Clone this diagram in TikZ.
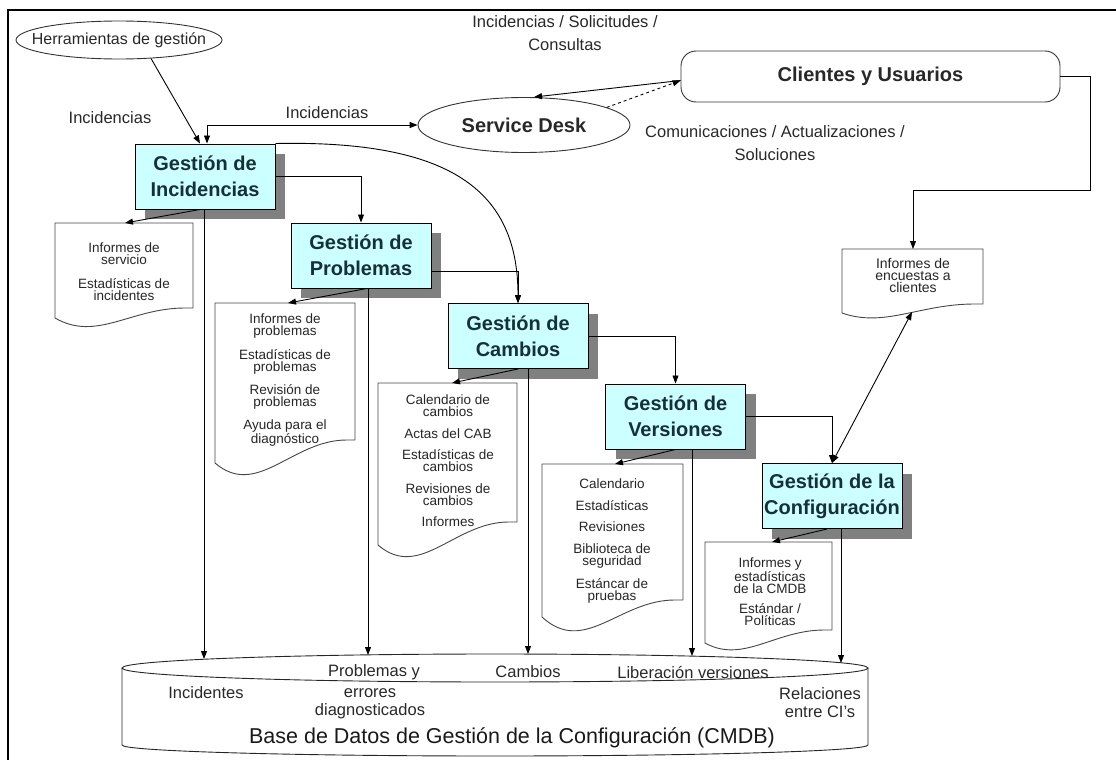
\documentclass[tikz,border=0pt]{standalone}
\usepackage{fontspec}
\setmainfont{Liberation Sans}
\usetikzlibrary{arrows.meta,shapes.geometric,shadows}
\definecolor{boxfill}{RGB}{204,255,255}
\definecolor{boxtext}{RGB}{22,48,55}
\definecolor{shadowgray}{RGB}{128,128,128}
\definecolor{docgray}{RGB}{70,70,70}
\definecolor{txtgray}{RGB}{40,40,40}
\newcommand\docpath[6]{%
  \draw[docline] (#1,#2) -- (#3,#2) -- (#3,#4) -- ({#3-0.06*(#3-#1)},#4)
    .. controls ({#1+0.55*(#3-#1)},#4) and ({#1+0.3*(#3-#1)},{#5+3*(#6-#5)}) .. (#1,#5) -- cycle;}
\begin{document}
\begin{tikzpicture}[x=1pt,y=-1pt,
  >={Triangle[length=8pt,width=6pt]},
  conn/.style={line width=0.9pt, draw=black},
  docline/.style={line width=0.9pt, draw=docgray, fill=white},
  gbox/.style={draw=black, line width=1pt, fill=boxfill, minimum width=140pt, minimum height=65pt,
    inner sep=0pt, align=center, font=\fontsize{20}{26}\selectfont\bfseries, text=boxtext,
    general shadow={fill=shadowgray, shadow xshift=10pt, shadow yshift=-10pt}},
  lbl/.style={font=\fontsize{16.5}{23}\selectfont, text=txtgray, align=center, inner sep=0pt},
  doctext/.style={font=\fontsize{13.5}{12}\selectfont, text=black!85, align=center, inner sep=0pt},
  cmdbtxt/.style={font=\fontsize{16.5}{18}\selectfont, text=txtgray, align=center, inner sep=0pt},
  oval/.style={draw=black!80, line width=0.9pt, ellipse, inner sep=0pt},
]
\useasboundingbox (0,0) rectangle (1116,760);
% frame
\draw[line width=2.5pt] (8,765) -- (8,10) -- (1120,10);

% top nodes
\node[oval, minimum width=206pt, minimum height=38pt] (herr) at (119,40)
  {\makebox[0pt]{\fontsize{16}{18}\selectfont\color{txtgray}Herramientas de gestión}};
\node[oval, minimum width=212pt, minimum height=55pt] (sd) at (524,125)
  {\makebox[0pt]{\fontsize{20}{22}\selectfont\bfseries\color{txtgray}Service Desk}};
\node[draw=black!80, line width=0.9pt, rounded corners=15pt, minimum width=379pt, minimum height=51pt,
  font=\fontsize{20}{22}\selectfont\bfseries, text=txtgray] (cli) at (870.5,76.5) {Clientes y Usuarios};

% labels
\node[lbl] (l1) at (110,118) {Incidencias};
\node[lbl] (l2) at (327,113) {Incidencias};
\node[lbl] (l3) at (565,33) {Incidencias / Solicitudes /\\Consultas};
\node[lbl] (l4) at (775,143) {Comunicaciones / Actualizaciones /\\Soluciones};

% documents
\docpath{55}{223}{193}{308}{318}{326}
\docpath{215}{303}{355}{440}{463}{475}
\docpath{378}{383}{517}{522}{545}{557}
\docpath{542}{464}{683}{600}{617}{630}
\docpath{705}{542}{832}{630}{643}{650}
\docpath{842}{249}{983}{304}{313}{318}
\coordinate (d1t) at (125,223);
\coordinate (d2t) at (288,303);
\coordinate (d3t) at (452,383);
\coordinate (d4t) at (615,464);
\coordinate (d5t) at (772,542);
\coordinate (d6t) at (913,249);
\coordinate (d6b) at (912,312);

\node[doctext] (t1) at (124,271.5) {Informes de\\servicio\\[11.5pt]Estadísticas de\\incidentes};
\node[doctext] (t2) at (285,380) {Informes de\\problemas\\[9.5pt]Estadísticas de\\problemas\\[9.5pt]Revisión de\\problemas\\[9.5pt]Ayuda para el\\diagnóstico};
\node[doctext] (t3) at (448,461) {Calendario de\\cambios\\[9.5pt]Actas del CAB\\[9.5pt]Estadísticas de\\cambios\\[9.5pt]Revisiones de\\cambios\\[9.5pt]Informes};
\node[doctext] (t4) at (612,541) {Calendario\\[9.5pt]Estadísticas\\[9.5pt]Revisiones\\[9.5pt]Biblioteca de\\seguridad\\[9.5pt]Estáncar de\\pruebas};
\node[doctext] (t5) at (770,592) {Informes y\\estadísticas\\de la CMDB\\[8pt]Estándar /\\Políticas};
\node[doctext, font=\fontsize{14}{12}\selectfont] (t6) at (913,275) {Informes de\\encuestas a\\clientes};

% CMDB cylinder
\draw[line width=0.9pt, draw=black!85] (122,668) -- (122,745)
  arc[start angle=180, end angle=360, x radius=373pt, y radius=11pt] -- (868,668);
\draw[line width=0.9pt, draw=black!85] (495,668) ellipse [x radius=373pt, y radius=14pt];
\coordinate (c1) at (204,659);
\coordinate (c2) at (368,655);
\coordinate (c3) at (528,654);
\coordinate (c4) at (692,656);
\coordinate (c5) at (841,663);
\node[cmdbtxt] (m1) at (206,693) {Incidentes};
\node[cmdbtxt] (m2) at (374,672) {Problemas y};
\node[cmdbtxt] (m3) at (370,704) {errores\\diagnosticados};
\node[cmdbtxt] (m4) at (528,672) {Cambios};
\node[cmdbtxt] (m5) at (693,672) {Liberación versiones};
\node[cmdbtxt] (m6) at (820,703) {Relaciones\\entre CI's};
\node[cmdbtxt, font=\fontsize{21.5}{24}\selectfont, text=black!90] (m7) at (512,738)
  {Base de Datos de Gestión de la Configuración (CMDB)};

% process boxes
\node[gbox] (inc)  at (205,176.5) {Gestión de\\Incidencias};
\node[gbox] (prob) at (361,255.5) {Gestión de\\Problemas};
\node[gbox] (cam)  at (518,336) {Gestión de\\Cambios};
\node[gbox] (ver)  at (675.5,416.5) {Gestión de\\Versiones};
\node[gbox] (conf) at (832,496) {Gestión de la\\Configuración};

% connectors at the top
\draw[conn,->] (herr.-30) -- ([xshift=-5pt]inc.north);
\draw[conn,<->] (sd.west) -| ([xshift=2pt]inc.north);
\draw[conn,->] ([yshift=-4pt]cli.west) -- ([xshift=10pt]sd.north);
\draw[conn,dashed,->] (sd.12) -- ([yshift=-4pt]cli.west);
\draw[conn,->] (cli.east) -| (1090,190) -| (d6t);
\draw[conn,<->] (d6b) -- (conf.north);

% flow between processes
\draw[conn,->] (inc.east) -| (prob.north);
\draw[conn,->] ([yshift=-16pt]prob.east) -| (cam.north);
\draw[conn,->] (cam.east) -| (ver.north);
\draw[conn,->] (ver.east) -| (conf.north);
\draw[conn,->] (inc.north east) .. controls (450,140) and (518,190) .. (cam.north);

% process -> documents
\draw[conn,->] ([xshift=-5pt]inc.south) -- (d1t);
\draw[conn,->] ([xshift=6pt]prob.south) -- (d2t);
\draw[conn,->] (cam.south) -- (d3t);
\draw[conn,->] (ver.south) -- (d4t);
\draw[conn,->] ([xshift=-5pt]conf.south) -- (d5t);

% process -> CMDB
\draw[conn,->] ([xshift=-1pt]inc.south) -- (c1);
\draw[conn,->] ([xshift=7pt]prob.south) -- (c2);
\draw[conn,->] ([xshift=10pt]cam.south) -- (c3);
\draw[conn,->] ([xshift=16.5pt]ver.south) -- (c4);
\draw[conn,->] ([xshift=9pt]conf.south) -- (c5);
\end{tikzpicture}
\end{document}
